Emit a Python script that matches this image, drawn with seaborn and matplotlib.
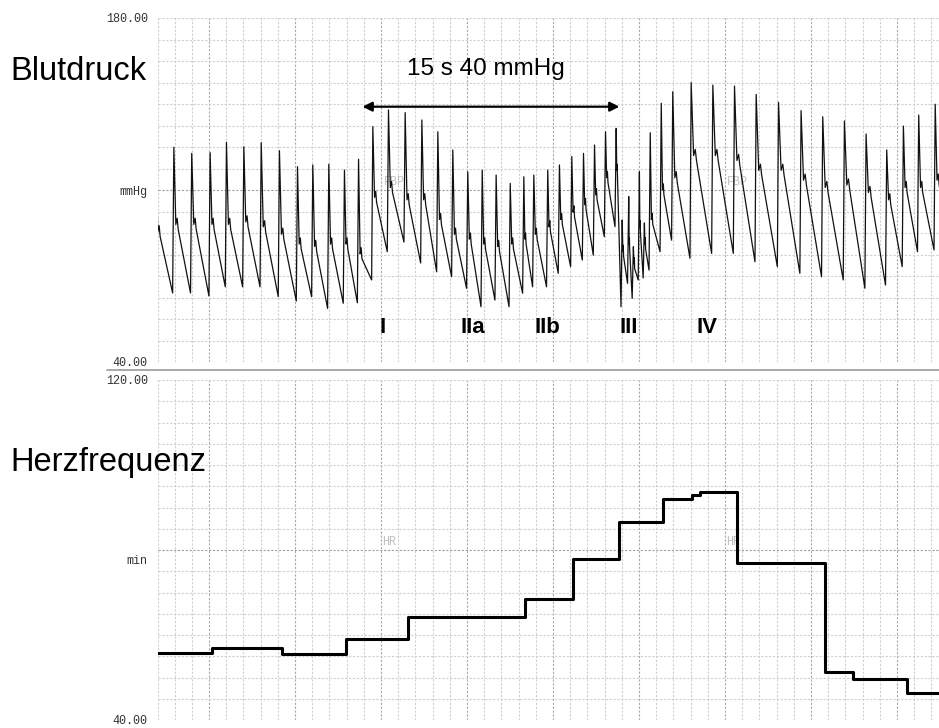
import numpy as np
import pandas as pd
import matplotlib
matplotlib.use("Agg")
import matplotlib.pyplot as plt
import seaborn as sns
from matplotlib.ticker import FixedLocator
from matplotlib.transforms import ScaledTranslation
from matplotlib.lines import Line2D

# ---------------------------------------------------------------- data
# Finger blood pressure: one entry per heartbeat (time of systolic peak in s,
# systolic pressure, dicrotic notch pressure, end-diastolic pressure in mmHg)
beat_t = [1.90, 2.95, 3.99, 5.06, 6.01, 7.02, 8.03, 9.09, 10.14, 11.03,
          11.96, 12.87, 13.69, 14.52, 15.43, 16.40, 17.37, 18.30, 19.17, 20.04,
          20.88, 21.69, 22.51, 23.30, 23.88, 24.69, 25.37, 26.09, 26.77, 27.41,
          28.05, 28.67, 29.02, 29.40, 29.67, 30.02, 30.31, 30.65, 31.29, 31.96,
          33.03, 34.29, 35.55, 36.81, 38.11, 39.42, 40.68, 41.94, 43.20, 44.40,
          45.37, 46.26, 47.22]
beat_sys = [123.0, 127.4, 124.9, 125.2, 129.4, 127.6, 129.3, 126.0, 119.5, 120.2,
            120.5, 118.1, 122.5, 135.8, 142.6, 141.5, 138.5, 133.7, 126.3, 117.4,
            118.1, 116.1, 112.7, 115.4, 116.1, 118.1, 120.2, 123.6, 124.9, 128.3,
            133.7, 135.1, 97.8, 107.3, 86.9, 117.4, 96.6, 133.3, 145.3, 150.0,
            153.7, 152.7, 152.3, 148.9, 145.7, 142.3, 139.8, 138.1, 132.8, 126.3,
            136.0, 140.5, 144.9]
beat_notch = [93, 96, 96, 96, 96, 97, 95, 92, 88, 87,
              88, 88, 84, 107, 111, 106, 106, 98, 92, 90,
              88, 87, 88, 90, 92, 95, 98, 101, 104, 108,
              115, 118, 85, 88, 80, 95, 88, 98, 110, 115,
              124, 124, 122, 118, 118, 114, 111, 112, 109, 106,
              111, 111, 114]
beat_dia = [68.1, 68.1, 66.9, 70.6, 70.6, 70.6, 66.6, 64.8, 66.6, 61.8,
            63.9, 64.1, 73.4, 84.9, 88.8, 80.3, 76.7, 74.7, 70.0, 62.5,
            65.2, 62.5, 68.0, 70.6, 70.6, 76.1, 78.8, 81.5, 83.5, 91.0,
            95.1, 62.5, 72.0, 65.9, 73.4, 74.2, 77.4, 84.9, 89.6, 82.2,
            84.2, 84.2, 80.8, 78.8, 76.1, 74.7, 73.4, 70.0, 71.3, 78.8,
            84.9, 85.6, 85.0]
trace_end_t = 48.1

# Heart rate display (beats/min), stepwise: start time of each step and value
hr_step_t = [2.0, 5.18, 9.25, 12.97, 16.55, 23.34, 26.15, 28.82, 31.42,
             33.09, 33.57, 35.68, 40.84, 42.42, 45.56]
hr_step_val = [55.7, 56.9, 55.6, 59.0, 64.3, 68.5, 78.0, 86.7, 91.9,
               92.9, 93.7, 76.9, 51.4, 49.6, 46.3]

bp_ticks = [40, 110, 180]
bp_tick_labels = ["40.00", "mmHg", "180.00"]
hr_ticks = [40, 80, 120]
hr_tick_labels = ["40.00", "min", "120.00"]

phase_labels = ["I", "IIa", "IIb", "III", "IV"]
phase_t = [15.08, 20.34, 24.65, 29.38, 33.95]
phase_y = 54.2

maneuver_start, maneuver_end, maneuver_y = 13.92, 28.86, 143.9
maneuver_label = "15 s 40 mmHg"

# ---------------------------------------------------------------- styling
sns.set_theme(style="white")
plt.rcParams["font.family"] = ["Liberation Sans", "DejaVu Sans"]
plt.rcParams["text.color"] = "black"
MONO = ["Liberation Mono", "DejaVu Sans Mono"]

T0, T1 = 2.0, 47.44
RISE = 0.07          # upstroke duration of each pulse (s)

W, H = 939, 728
fig = plt.figure(figsize=(W / 100, H / 100), dpi=100)
ax_bp = fig.add_axes([157.5 / W, 1 - 362 / H, 1 - 157.5 / W, 344 / H])
ax_hr = fig.add_axes([157.5 / W, 1 - 720 / H, 1 - 157.5 / W, 340 / H])

# ---------------------------------------------------------------- pulse trace
# each pulse: upstroke to the systolic peak, quick fall to the dicrotic notch,
# small reflected bump, then diastolic run-off to the next foot
pts_t, pts_p = [], []
n = len(beat_t)
for i in range(n):
    tp = beat_t[i]
    t_end = beat_t[i + 1] - RISE if i + 1 < n else trace_end_t
    d = t_end - tp
    pts_t += [tp, tp + 0.12 * d, tp + 0.2 * d, tp + 0.26 * d, t_end]
    pts_p += [beat_sys[i], beat_notch[i], beat_notch[i] + 2.5, beat_notch[i] - 2.0,
              beat_dia[i]]
bp_df = pd.DataFrame({"t": pts_t, "p": pts_p})

hr_df = pd.DataFrame({"t": hr_step_t + [T1], "hr": hr_step_val + [hr_step_val[-1]]})


def style_grid(ax, y0, y1, ystep, ymid):
    ax.set_xlim(T0, T1)
    ax.set_ylim(y0, y1)
    for s in ax.spines.values():
        s.set_visible(False)
    ax.xaxis.set_major_locator(FixedLocator([]))
    for t in np.arange(T0, T1, 1.0):
        major = abs(t / 5 - round(t / 5)) < 1e-6
        ax.axvline(t, color="#a8a8a8" if major else "#cfcfcf",
                   lw=0.8, ls=(0, (2, 1.5)), zorder=0.5)
    for y in np.arange(y0, y1 + 1e-6, ystep):
        major = abs(y - ymid) < 1e-6
        ax.axhline(y, color="#a0a0a0" if major else "#cfcfcf",
                   lw=0.8, ls=(0, (2, 1.5)), zorder=0.5)
    ax.tick_params(axis="both", length=0, pad=7)


style_grid(ax_bp, 40, 180, 8.75, 110)
style_grid(ax_hr, 40, 120, 5, 80)

ax_bp.set_yticks(bp_ticks, bp_tick_labels, fontfamily=MONO, fontsize=8.5, color="#333333")
ax_hr.set_yticks(hr_ticks, hr_tick_labels, fontfamily=MONO, fontsize=8.5, color="#333333")
# unit label of the heart-rate channel sits a little below its grid line
lbl = ax_hr.get_yticklabels()[1]
lbl.set_transform(lbl.get_transform() + ScaledTranslation(0, -9 / 100, fig.dpi_scale_trans))

sns.lineplot(data=bp_df, x="t", y="p", ax=ax_bp, sort=False, estimator=None,
             color="#111111", lw=0.9, zorder=3)
sns.lineplot(data=hr_df, x="t", y="hr", ax=ax_hr, sort=False, estimator=None,
             color="#000000", lw=2.2, drawstyle="steps-post", zorder=3)
for ax in (ax_bp, ax_hr):
    ax.set_xlabel("")
    ax.set_ylabel("")

# channel names printed faintly inside the traces
for t in (15.78, 35.72):
    ax_bp.text(t, 113.4, "FBP", fontfamily=MONO, fontsize=8.5, color="#c0c0c0",
               ha="center", va="center", zorder=2)
for t in (15.49, 35.49):
    ax_hr.text(t, 81.9, "HR", fontfamily=MONO, fontsize=8.5, color="#c0c0c0",
               ha="center", va="center", zorder=2)

# Valsalva phases
for lab, t in zip(phase_labels, phase_t):
    ax_bp.text(t, phase_y, lab, fontsize=16, fontweight="bold", ha="center",
               va="center", color="black", zorder=4)

# strain period
ax_bp.annotate("", xy=(maneuver_start, maneuver_y), xytext=(maneuver_end, maneuver_y),
               arrowprops=dict(arrowstyle="<|-|>", color="black", lw=1.6,
                               mutation_scale=14, shrinkA=0, shrinkB=0), zorder=4)
ax_bp.text((maneuver_start + maneuver_end) / 2 - 0.3, maneuver_y + 15.5, maneuver_label,
           fontsize=17.5, ha="center", va="center", color="black", zorder=4)

fig.text(10 / W, 1 - 72 / H, "Blutdruck", fontsize=23.5, ha="left", va="center",
         color="black")
fig.text(10 / W, 1 - 463 / H, "Herzfrequenz", fontsize=23.5, ha="left", va="center",
         color="black")

# separator between the two channels
fig.add_artist(Line2D([107 / W, 1.0], [1 - 369.5 / H] * 2, color="#9a9a9a", lw=1.2))

fig.savefig("out.png", dpi=100)
